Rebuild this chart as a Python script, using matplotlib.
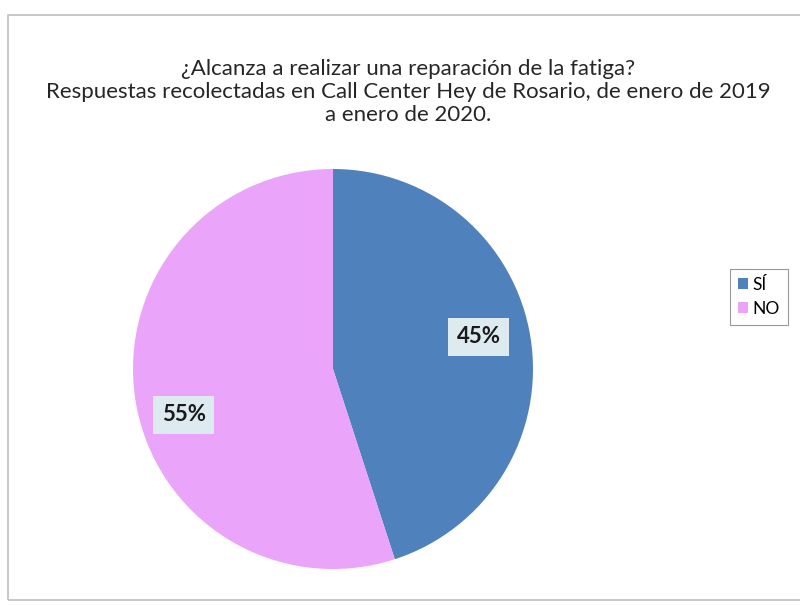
import numpy as np
import matplotlib.pyplot as plt
from matplotlib.patches import Rectangle

# Data
labels = ["SÍ", "NO"]
values = [45, 55]
colors = ["#4F81BD", "#EAA4FA"]

title = ("¿Alcanza a realizar una reparación de la fatiga?\n"
         "Respuestas recolectadas en Call Center Hey de Rosario, de enero de 2019\n"
         "a enero de 2020.")

plt.rcParams['font.family'] = ['Lato', 'DejaVu Sans']

W, H = 800, 605
fig = plt.figure(figsize=(W / 100, H / 100), dpi=100)

# chart area border
fig.patches.append(Rectangle((8 / W, 1 - 600 / H), (W + 10 - 8) / W, (600 - 15) / H,
                             transform=fig.transFigure, fill=False,
                             edgecolor="#BFBFBF", linewidth=1.2))

# pie axes: centre (333, 369) px, radius ~200 px
cx, cy, r = 333, 369, 200
half = 220
ax = fig.add_axes([(cx - half) / W, (H - cy - half) / H, 2 * half / W, 2 * half / H])

wedges, texts, autotexts = ax.pie(values, colors=colors, startangle=90, counterclock=False,
                                  autopct='%1.0f%%', pctdistance=0.7,
                                  wedgeprops=dict(linewidth=0),
                                  textprops=dict(fontsize=16, fontweight='bold', color="#1a1a1a"))
lim = half / r
ax.set_xlim(-lim, lim)
ax.set_ylim(-lim, lim)
ax.set_aspect('equal')
ax.axis('off')

# label placement (angle in degrees, distance from centre)
label_pos = [(12.5, 0.745), (197, 0.78)]
for t, (ang, d) in zip(autotexts, label_pos):
    a = np.deg2rad(ang)
    t.set_position((d * np.cos(a), d * np.sin(a)))
    t.set_bbox(dict(boxstyle="square,pad=0.38", facecolor="#DDEBF1", edgecolor="none"))

fig.text(408 / W, 1 - 92 / H, title, ha='center', va='center', fontsize=16,
         color="#262626", linespacing=1.17)

leg = fig.legend(wedges, labels, loc='center', bbox_to_anchor=(759 / W, 1 - 297 / H),
                 fontsize=12.5, frameon=True, fancybox=False, edgecolor="#7F7F7F",
                 handlelength=0.6, handleheight=0.6, handletextpad=0.25,
                 labelspacing=0.45, borderpad=0.45)
leg.get_frame().set_linewidth(0.8)

fig.savefig("out.png", dpi=100)
